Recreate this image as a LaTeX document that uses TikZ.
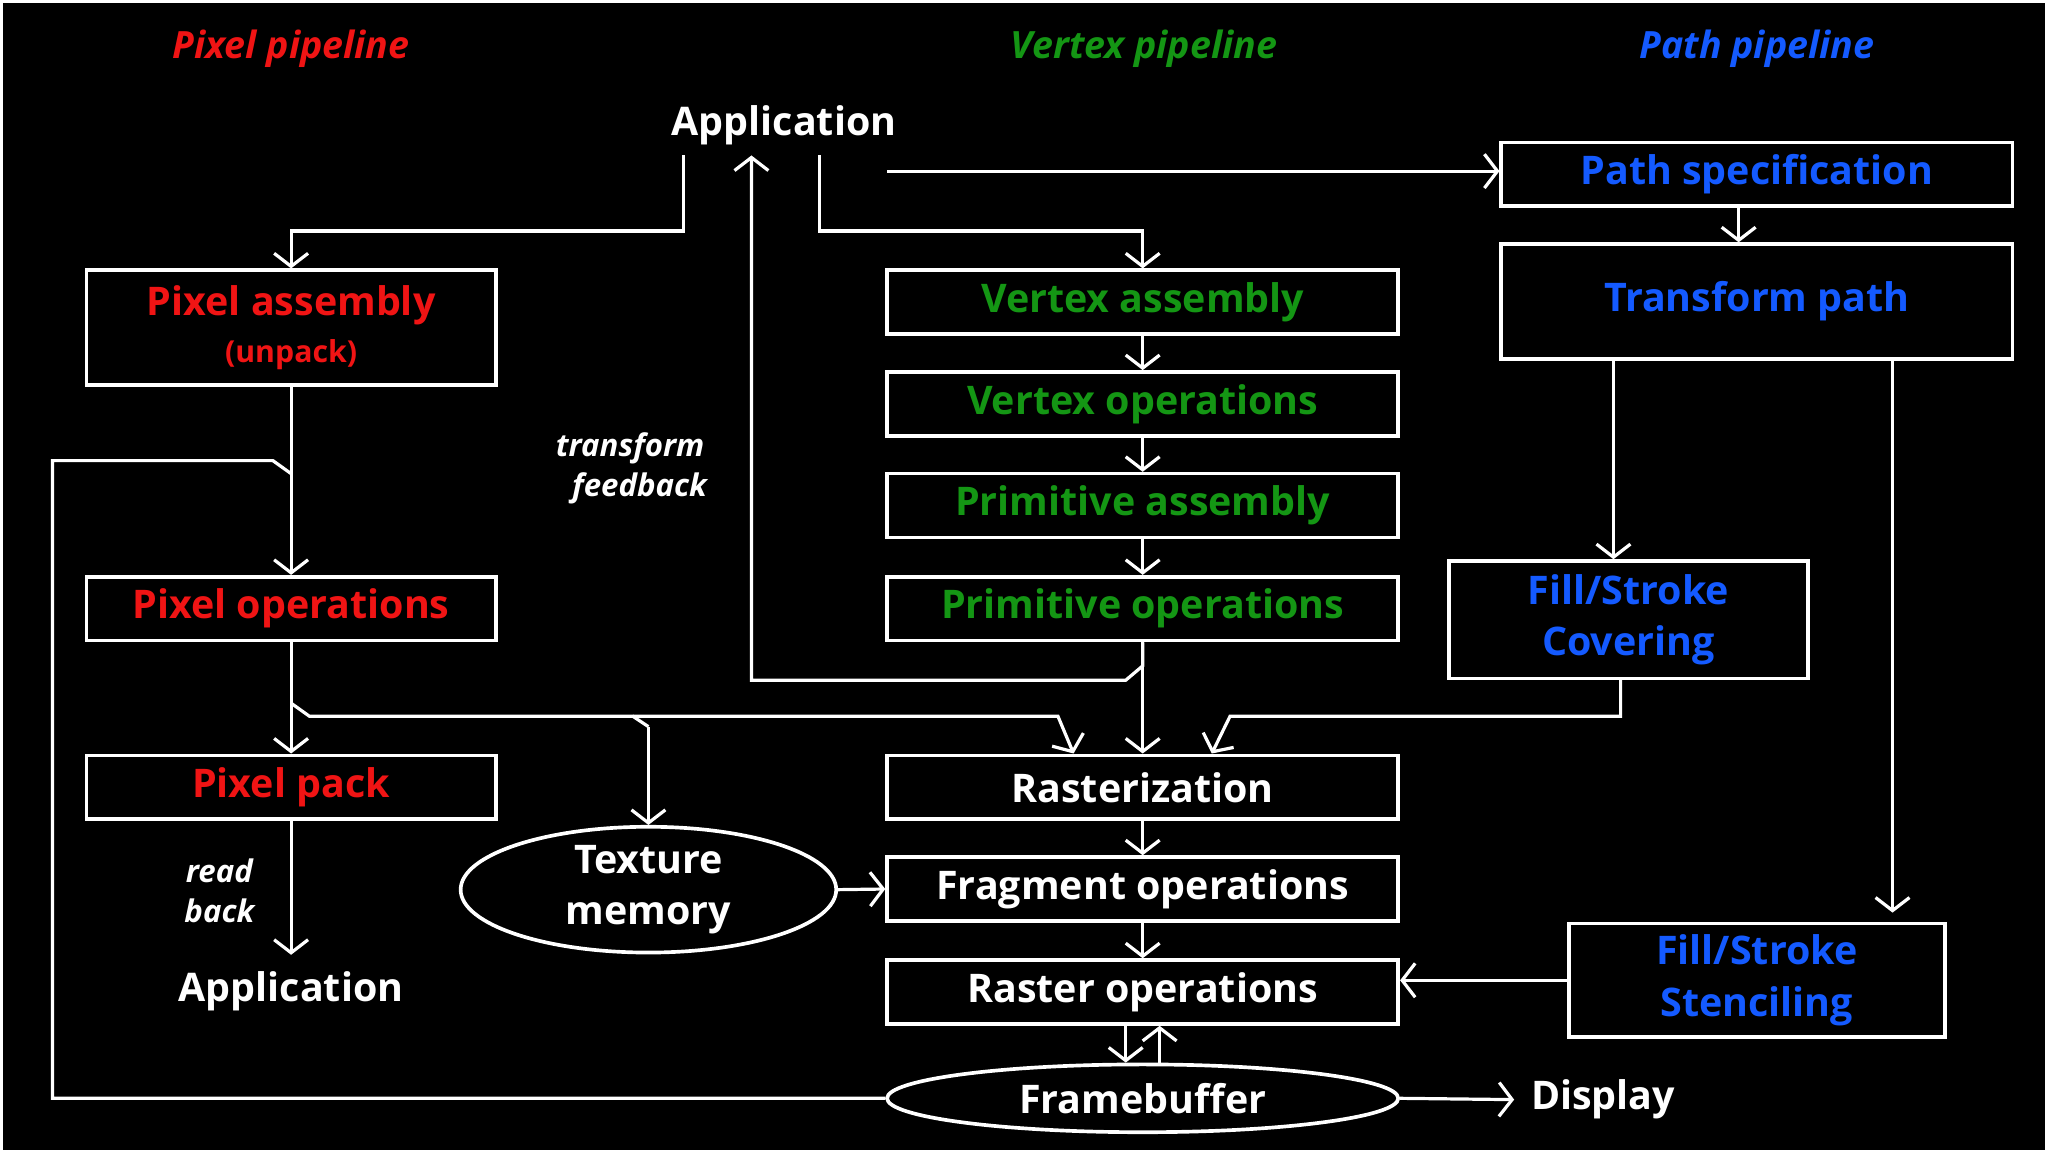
\documentclass[tikz,border=0pt]{standalone}
\usepackage{fontspec}
\setmainfont{Open Sans}
\usetikzlibrary{positioning,shapes,arrows.meta}
\definecolor{pixred}{RGB}{240,20,20}
\definecolor{vertgreen}{RGB}{20,150,20}
\definecolor{pathblue}{RGB}{20,90,255}
\begin{document}
\begin{tikzpicture}[
  font=\fontsize{8.6}{11.2}\selectfont\bfseries,
  >={Straight Barb[length=1mm,width=2.6mm]},
  every path/.style={draw=white, line width=0.7pt},
  stage/.style={rectangle, draw=white, line width=0.8pt, minimum width=3.92cm, minimum height=0.49cm, inner sep=1pt},
  wide/.style={stage, minimum width=3.14cm},
  oval/.style={ellipse, draw=white, line width=0.8pt, inner sep=0pt, text=white},
  label/.style={text=white, align=center},
  heading/.style={font=\fontsize{8.2}{10}\selectfont\bfseries\itshape}
]
\fill[black, draw=none] (0,0) rectangle (15.68,8.82);
\useasboundingbox (0,0) rectangle (15.68,8.82);

%Headings
\node[heading, text=pixred] (hpix) at (2.22,8.46) {Pixel pipeline};
\node[heading, text=vertgreen] (hvert) at (8.76,8.46) {Vertex pipeline};
\node[heading, text=pathblue] (hpath) at (13.46,8.46) {Path pipeline};

%Nodes vertex pipeline
\node[label] (app) at (6.0,7.87) {Application};
\node[stage, text=vertgreen] (vasm) at (8.75,6.515) {Vertex assembly};
\node[stage, text=vertgreen] (vops) at (8.75,5.735) {Vertex operations};
\node[stage, text=vertgreen] (pasm) at (8.75,4.955) {Primitive assembly};
\node[stage, text=vertgreen] (pops) at (8.75,4.165) {Primitive operations};
\node[stage, text=white] (rast) at (8.75,2.795) {Rasterization};
\node[stage, text=white] (frag) at (8.75,2.015) {Fragment operations};
\node[stage, text=white] (rop) at (8.75,1.225) {Raster operations};
\node[oval, minimum width=3.92cm, minimum height=0.52cm] (fb) at (8.75,0.41) {Framebuffer};
\node[label] (display) at (12.28,0.40) {Display};

%Nodes pixel pipeline
\node[wide, minimum height=0.88cm, text=pixred, align=center] (pixasm) at (2.22,6.32) {Pixel assembly\\[-1pt]{\fontsize{6.6}{8}\selectfont (unpack)}};
\node[wide, text=pixred] (pixop) at (2.22,4.165) {Pixel operations};
\node[wide, text=pixred] (pixpack) at (2.22,2.795) {Pixel pack};
\node[label] (app2) at (2.22,1.23) {Application};
\node[label, font=\fontsize{6.8}{8.6}\selectfont\bfseries\itshape] (readback) at (1.67,2.0) {read\\back};
\node[label, font=\fontsize{6.8}{8.6}\selectfont\bfseries\itshape] (tfb) at (4.82,5.24) {transform\\\hspace{0.6em}feedback};
\node[oval, minimum width=2.88cm, minimum height=0.88cm, align=center] (tex) at (4.96,2.01) {Texture\\memory};

%Nodes path pipeline
\node[stage, text=pathblue] (pspec) at (13.46,7.495) {Path specification};
\node[stage, minimum height=0.88cm, text=pathblue] (tpath) at (13.46,6.52) {Transform path};
\node[stage, minimum width=2.75cm, minimum height=0.9cm, text=pathblue, align=center] (cover) at (12.475,4.08) {Fill/Stroke\\Covering};
\node[stage, minimum width=2.88cm, minimum height=0.87cm, text=pathblue, align=center] (stencil) at (13.46,1.315) {Fill/Stroke\\Stenciling};

%Branch points
\coordinate (appL) at (5.23,7.64);
\coordinate (appR) at (6.27,7.64);
\coordinate (appE) at (6.79,7.52);
\coordinate (appF) at (5.75,7.64);
\coordinate (loopIn) at (2.22,5.20);
\coordinate (split) at (2.22,3.44);
\coordinate (texTurn) at (4.96,3.26);
\coordinate (covTurn) at (9.42,3.34);
\coordinate (covIn) at (9.28,0);
\coordinate (pixTurn) at (8.10,3.34);
\coordinate (pixIn) at (8.22,0);

%Arrows
\draw[->] (appL) -- ++(0,-0.58) -| (pixasm.north);
\draw[->] (appR) -- ++(0,-0.58) -| (vasm.north);
\draw[->] (appE) -- (appE -| pspec.west);
\draw[->] (vasm) -- (vops);
\draw[->] (vops) -- (pasm);
\draw[->] (pasm) -- (pops);
\draw[->] (pops) -- (rast);
\draw[->] (pops.south) -- ++(0,-0.18) -- ++(-0.13,-0.11) -| (appF);
\draw[->] (rast) -- (frag);
\draw[->] (frag) -- (rop);
\draw[->] ([xshift=-1.3mm]rop.south) -- ([xshift=-1.3mm]fb.north);
\draw[<-] ([xshift=1.3mm]rop.south) -- ([xshift=1.3mm]fb.north);
\draw[->] (fb.east) -- (display.west);

\draw[->] ([xshift=-1.4mm]pspec.south) -- ([xshift=-1.4mm]tpath.north);
\draw[->] ([xshift=-1.1cm]tpath.south) -- ([xshift=-1.1cm]tpath.south |- cover.north);
\draw[->] ([xshift=1.04cm]tpath.south) -- ([xshift=1.04cm,yshift=0.7mm]tpath.south |- stencil.north);
\draw[->] ([xshift=-0.6mm]cover.south) |- (covTurn) -- (rast.north -| covIn);
\draw[->] (stencil.west) -- (stencil.west -| rop.east);

\draw[->] (pixasm) -- (pixop);
\draw (fb.west) -| (0.39,5.30) -- (2.08,5.30) -- (loopIn);
\draw[->] (pixop) -- (pixpack);
\draw (split) -- (2.36,3.34) -- (4.84,3.34) -- (texTurn);
\draw[->] (texTurn) -- (tex.north);
\draw[->] (4.84,3.34) -- (pixTurn) -- (rast.north -| pixIn);
\draw[->] (pixpack) -- (app2);
\draw[->] (tex.east) -- (frag.west);
\end{tikzpicture}
\end{document}
